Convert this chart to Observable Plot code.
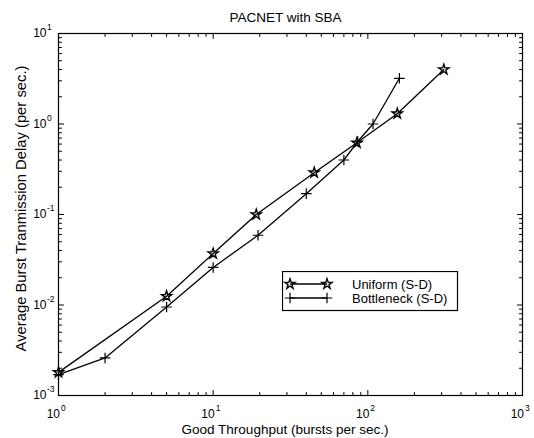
<!DOCTYPE html>
<html><head><meta charset="utf-8">
<script src="https://cdn.jsdelivr.net/npm/d3@7"></script>
<script src="https://cdn.jsdelivr.net/npm/@observablehq/plot@0.6"></script>
<style>
body{margin:0;background:#fff;}
#wrap{position:relative;width:534px;height:438px;overflow:hidden;background:#fff;}
#legend{position:absolute;left:282px;top:271px;}
</style></head><body><div id="wrap"></div>
<script>
// Data
const uniformX = [1, 5, 10, 19, 45, 85, 155, 310];
const uniformY = [0.0018, 0.0125, 0.037, 0.10, 0.29, 0.62, 1.3, 4.0];
const bottleneckX = [1, 2, 5, 10, 19.5, 40, 70, 86, 108, 160];
const bottleneckY = [0.0017, 0.0026, 0.0095, 0.026, 0.059, 0.17, 0.40, 0.64, 1.0, 3.2];
const seriesNames = ["Uniform (S-D)", "Bottleneck (S-D)"];

const xDecades = [1, 10, 100, 1000];
const yDecades = [0.001, 0.01, 0.1, 1, 10];
const minorMultipliers = [2, 3, 4, 5, 6, 7, 8, 9];
const titleText = "PACNET with SBA";
const xLabel = "Good Throughput (bursts per sec.)";
const yLabel = "Average Burst Tranmission Delay (per sec.)";

const uniform = uniformX.map((x, i) => ({x, y: uniformY[i]}));
const bottleneck = bottleneckX.map((x, i) => ({x, y: bottleneckY[i]}));
const xMinor = xDecades.slice(0, -1).flatMap(d => minorMultipliers.map(m => d * m));
const yMinor = yDecades.slice(0, -1).flatMap(d => minorMultipliers.map(m => d * m));

const tickShape = {draw(context, l) { context.moveTo(0, 0); context.lineTo(0, -l); }};
const font = "'Liberation Sans', Arial, Helvetica, sans-serif";
const xmin = 1, xmax = 1000, ymin = 0.001, ymax = 10;

function ticks(data, axis, len) {
  const common = {anchor: "start", length: len, shape: tickShape, stroke: "black", strokeWidth: 1};
  if (axis === "bottom") return Plot.vector(data, {...common, x: d => d, y: ymin, rotate: 0});
  if (axis === "top") return Plot.vector(data, {...common, x: d => d, y: ymax, rotate: 180});
  if (axis === "left") return Plot.vector(data, {...common, x: xmin, y: d => d, rotate: 90});
  return Plot.vector(data, {...common, x: xmax, y: d => d, rotate: 270});
}
const exp = d => String(Math.round(Math.log10(d)));

const chart = Plot.plot({
  width: 534, height: 438,
  marginLeft: 58, marginRight: 12, marginTop: 33, marginBottom: 43,
  x: {type: "log", domain: [xmin, xmax], axis: null},
  y: {type: "log", domain: [ymin, ymax], axis: null},
  style: {fontFamily: font, fontSize: "12px", background: "white", color: "black", overflow: "visible"},
  marks: [
    Plot.frame({stroke: "black", strokeWidth: 1.2}),
    ticks(xDecades, "bottom", 5), ticks(xMinor, "bottom", 3),
    ticks(xDecades, "top", 5), ticks(xMinor, "top", 3),
    ticks(yDecades, "left", 5), ticks(yMinor, "left", 3),
    ticks(yDecades, "right", 5), ticks(yMinor, "right", 3),
    // x tick labels
    Plot.text(xDecades, {x: d => d, y: ymin, text: () => "10", textAnchor: "end", lineAnchor: "middle", dx: 1.5, dy: 19, fontSize: 12, fill: "black"}),
    Plot.text(xDecades, {x: d => d, y: ymin, text: exp, textAnchor: "start", lineAnchor: "middle", dx: 2.5, dy: 13, fontSize: 8.5, fill: "black"}),
    // y tick labels
    Plot.text(yDecades, {x: xmin, y: d => d, text: () => "10", textAnchor: "end", lineAnchor: "middle", dx: -12, dy: 0, fontSize: 12, fill: "black"}),
    Plot.text(yDecades, {x: xmin, y: d => d, text: exp, textAnchor: "start", lineAnchor: "middle", dx: -11.5, dy: -6, fontSize: 8.5, fill: "black"}),
    // titles
    Plot.text([titleText], {frameAnchor: "top", textAnchor: "middle", lineAnchor: "middle", dy: -16, dx: -5, fontSize: 13.5, fill: "black"}),
    Plot.text([xLabel], {frameAnchor: "bottom", textAnchor: "middle", lineAnchor: "middle", dy: 34.5, dx: -5.5, fontSize: 13.5, fill: "black"}),
    Plot.text([yLabel], {frameAnchor: "left", textAnchor: "middle", lineAnchor: "middle", rotate: -90, dx: -37, dy: -6, fontSize: 14.8, fill: "black"}),
    // series
    Plot.line(uniform, {x: "x", y: "y", stroke: "black", strokeWidth: 1.3}),
    Plot.line(bottleneck, {x: "x", y: "y", stroke: "black", strokeWidth: 1.3}),
    Plot.dot(uniform, {x: "x", y: "y", symbol: "star", r: 3.2, fill: "none", stroke: "black", strokeWidth: 1.4}),
    Plot.dot(bottleneck, {x: "x", y: "y", symbol: "plus", r: 3.5, stroke: "black", strokeWidth: 1.2})
  ]
});
const wrap = document.getElementById("wrap");
wrap.appendChild(chart);

// Legend
const ns = "http://www.w3.org/2000/svg";
const lg = document.createElementNS(ns, "svg");
lg.setAttribute("id", "legend");
lg.setAttribute("width", 177); lg.setAttribute("height", 41);
lg.style.fontFamily = font;
const starPath = d3.symbol(d3.symbolStar, Math.PI * 3.2 * 3.2)();
const plusPath = d3.symbol(d3.symbolPlus, Math.PI * 3.5 * 3.5)();
lg.innerHTML = `
  <rect x="0.5" y="0.5" width="175" height="39" fill="white" stroke="black" stroke-width="1.2"/>
  <line x1="8" x2="45" y1="13" y2="13" stroke="black" stroke-width="1.3"/>
  <path d="${starPath}" transform="translate(8,13)" fill="none" stroke="black" stroke-width="1.4"/>
  <path d="${starPath}" transform="translate(45,13)" fill="none" stroke="black" stroke-width="1.4"/>
  <line x1="8" x2="45" y1="27" y2="27" stroke="black" stroke-width="1.3"/>
  <path d="${plusPath}" transform="translate(8,27)" fill="none" stroke="black" stroke-width="1.2"/>
  <path d="${plusPath}" transform="translate(45,27)" fill="none" stroke="black" stroke-width="1.2"/>
  <text x="70" y="13" dy="0.35em" font-size="13" fill="black">${seriesNames[0]}</text>
  <text x="70" y="27" dy="0.35em" font-size="13" fill="black">${seriesNames[1]}</text>`;
wrap.appendChild(lg);
</script></body></html>
